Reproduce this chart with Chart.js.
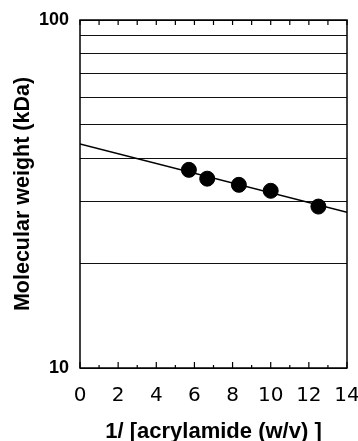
<!DOCTYPE html>
<html>
<head>
<meta charset="utf-8">
<script src="https://cdn.jsdelivr.net/npm/chart.js@4/dist/chart.umd.min.js"></script>
<style>
html,body{margin:0;padding:0;background:#fff;}
canvas{display:block;}
</style>
</head>
<body>
<canvas id="c" width="358" height="441"></canvas>
<script>
// 1/[acrylamide %] values and measured molecular weights
const invAcrylamide = [5.71, 6.67, 8.33, 10, 12.5];
const molWeight = [37.1, 35.0, 33.6, 32.3, 29.1];
// fitted line end points
const fitX = [0, 14];
const fitY = [44, 28];
// axis ticks
const xTickValues = [0, 2, 4, 6, 8, 10, 12, 14];
const yGridValues = [10, 20, 30, 40, 50, 60, 70, 80, 90, 100];
const yLabelValues = [10, 100];

const boxPlugin = {
  id: 'boxAndTicks',
  afterDatasetsDraw(chart) {
    const {ctx, chartArea: a, scales: {x}} = chart;
    ctx.save();
    ctx.strokeStyle = '#000';
    ctx.lineWidth = 1.5;
    ctx.strokeRect(a.left, a.top, a.right - a.left, a.bottom - a.top);
    ctx.lineWidth = 1.2;
    ctx.beginPath();
    for (let v = x.min; v <= x.max; v++) {
      const px = x.getPixelForValue(v);
      const even = v % 2 === 0;
      ctx.moveTo(px, a.top); ctx.lineTo(px, a.top + 5);
      ctx.moveTo(px, a.bottom); ctx.lineTo(px, a.bottom - (even ? 6 : 3));
    }
    ctx.stroke();
    ctx.restore();
  }
};

new Chart(document.getElementById('c'), {
  type: 'scatter',
  data: {
    datasets: [
      {
        type: 'line',
        data: fitX.map((v, i) => ({x: v, y: fitY[i]})),
        borderColor: '#000',
        borderWidth: 1.5,
        pointRadius: 0,
        fill: false,
        order: 2
      },
      {
        data: invAcrylamide.map((v, i) => ({x: v, y: molWeight[i]})),
        backgroundColor: '#000',
        borderColor: '#000',
        pointRadius: 7.5,
        order: 1
      }
    ]
  },
  options: {
    responsive: false,
    devicePixelRatio: 1,
    animation: false,
    layout: {padding: {top: 20, right: 11, left: 0, bottom: 0}},
    plugins: {legend: {display: false}, tooltip: {enabled: false}},
    scales: {
      x: {
        type: 'linear',
        min: 0, max: 14,
        afterBuildTicks: s => { s.ticks = xTickValues.map(v => ({value: v})); },
        afterFit: s => { s.height = 73; s.paddingLeft = 0; s.paddingRight = 0; },
        grid: {display: false, drawTicks: false},
        border: {display: false},
        ticks: {
          color: '#000',
          padding: 16,
          maxRotation: 0,
          font: {family: "'DejaVu Sans', Verdana, sans-serif", size: 20}
        },
        title: {
          display: true,
          text: '1/ [acrylamide (w/v) ]',
          color: '#000',
          font: {family: 'Liberation Sans', size: 22, weight: 'bold', lineHeight: 1},
          padding: {top: 0, bottom: -2}
        }
      },
      y: {
        type: 'logarithmic',
        min: 10, max: 100,
        afterBuildTicks: s => { s.ticks = yGridValues.map(v => ({value: v})); },
        afterFit: s => { s.width = 80; s.paddingTop = 0; s.paddingBottom = 0; },
        grid: {color: '#111', lineWidth: 1, drawTicks: false},
        border: {display: false},
        ticks: {
          color: '#000',
          padding: 11,
          autoSkip: false,
          font: {family: 'Liberation Sans', size: 18, weight: 'bold'},
          callback: v => yLabelValues.includes(v) ? String(v) : ''
        },
        title: {
          display: true,
          text: 'Molecular weight (kDa)',
          color: '#000',
          font: {family: 'Liberation Sans', size: 21.5, weight: 'bold'},
          padding: {top: 10, bottom: 0}
        }
      }
    }
  },
  plugins: [boxPlugin]
});
</script>
</body>
</html>
